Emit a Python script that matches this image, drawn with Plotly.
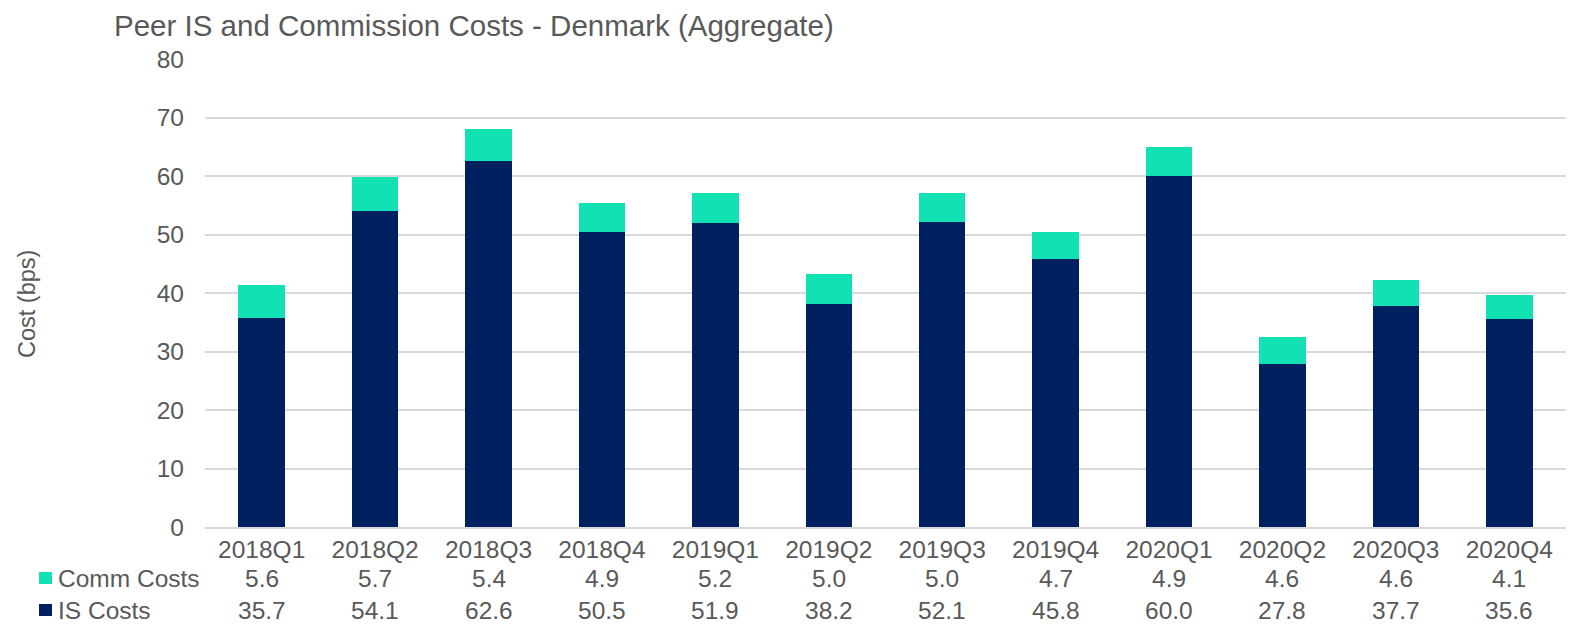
import plotly.graph_objects as go

categories = ["2018Q1", "2018Q2", "2018Q3", "2018Q4", "2019Q1", "2019Q2",
              "2019Q3", "2019Q4", "2020Q1", "2020Q2", "2020Q3", "2020Q4"]
is_costs = [35.7, 54.1, 62.6, 50.5, 51.9, 38.2, 52.1, 45.8, 60.0, 27.8, 37.7, 35.6]
comm_costs = [5.6, 5.7, 5.4, 4.9, 5.2, 5.0, 5.0, 4.7, 4.9, 4.6, 4.6, 4.1]
y_ticks = [0, 10, 20, 30, 40, 50, 60, 70, 80]

NAVY = "#002060"
TEAL = "#12E1B4"
TXT = "#595959"
FONT = "Liberation Sans, Arial, sans-serif"

W, H = 1572, 626
ML, MR, MT, MB = 205, 6, 59, 99
PW = W - ML - MR
PH = H - MT - MB


def py(pix):
    return (H - MB - pix) / PH


def px(pix):
    return (pix - ML) / PW


fig = go.Figure()
fig.add_trace(go.Bar(x=categories, y=is_costs, name="IS Costs",
                     marker=dict(color=NAVY, line=dict(width=0)), width=0.41))
fig.add_trace(go.Bar(x=categories, y=comm_costs, name="Comm Costs",
                     marker=dict(color=TEAL, line=dict(width=0)), width=0.41))

annotations = []
rows = [("Comm Costs", comm_costs, TEAL, 578), ("IS Costs", is_costs, NAVY, 610)]
shapes = []
for label, vals, col, ypix in rows:
    for c, v in zip(categories, vals):
        annotations.append(dict(x=c, xref="x", y=py(ypix), yref="paper",
                                text=f"{v:.1f}", showarrow=False,
                                xanchor="center", yanchor="middle",
                                font=dict(size=24.5, color=TXT, family=FONT)))
    annotations.append(dict(x=px(56), xref="paper", y=py(ypix), yref="paper",
                            text=label, showarrow=False, xanchor="left",
                            yanchor="middle",
                            font=dict(size=24.5, color=TXT, family=FONT)))
    shapes.append(dict(type="rect", xref="paper", yref="paper",
                       x0=px(39), x1=px(52), y0=py(ypix - 6), y1=py(ypix + 6),
                       fillcolor=col, line=dict(width=0)))

annotations.append(dict(x=px(27), xref="paper", y=py(304), yref="paper",
                        text="Cost (bps)", textangle=-90, showarrow=False,
                        xanchor="center", yanchor="middle",
                        font=dict(size=23.5, color=TXT, family=FONT)))

fig.update_layout(
    barmode="stack",
    width=W, height=H,
    margin=dict(l=ML, r=MR, t=MT, b=MB),
    paper_bgcolor="white", plot_bgcolor="white",
    showlegend=False,
    title=dict(text="Peer IS and Commission Costs - Denmark (Aggregate)",
               x=114 / W, xref="container", xanchor="left",
               y=1 - 26 / H, yref="container", yanchor="middle",
               font=dict(size=29.5, color=TXT, family=FONT)),
    font=dict(family=FONT, color=TXT),
    annotations=annotations,
    shapes=shapes,
)
fig.update_xaxes(showgrid=False, showline=True, linecolor="#D9D9D9", linewidth=1.5,
                 ticks="", tickfont=dict(size=24.5, color=TXT, family=FONT),
                 ticklabelstandoff=0, fixedrange=True, automargin=False)
fig.update_yaxes(range=[0, 80], tickvals=y_ticks, showgrid=True,
                 gridcolor="#D9D9D9", gridwidth=1.5, zeroline=False, ticks="",
                 tickfont=dict(size=24.5, color=TXT, family=FONT),
                 ticklabelstandoff=20, fixedrange=True, automargin=False)

fig.write_html("out.html", config={"displayModeBar": False},
               post_script="document.body.style.margin='0';")
